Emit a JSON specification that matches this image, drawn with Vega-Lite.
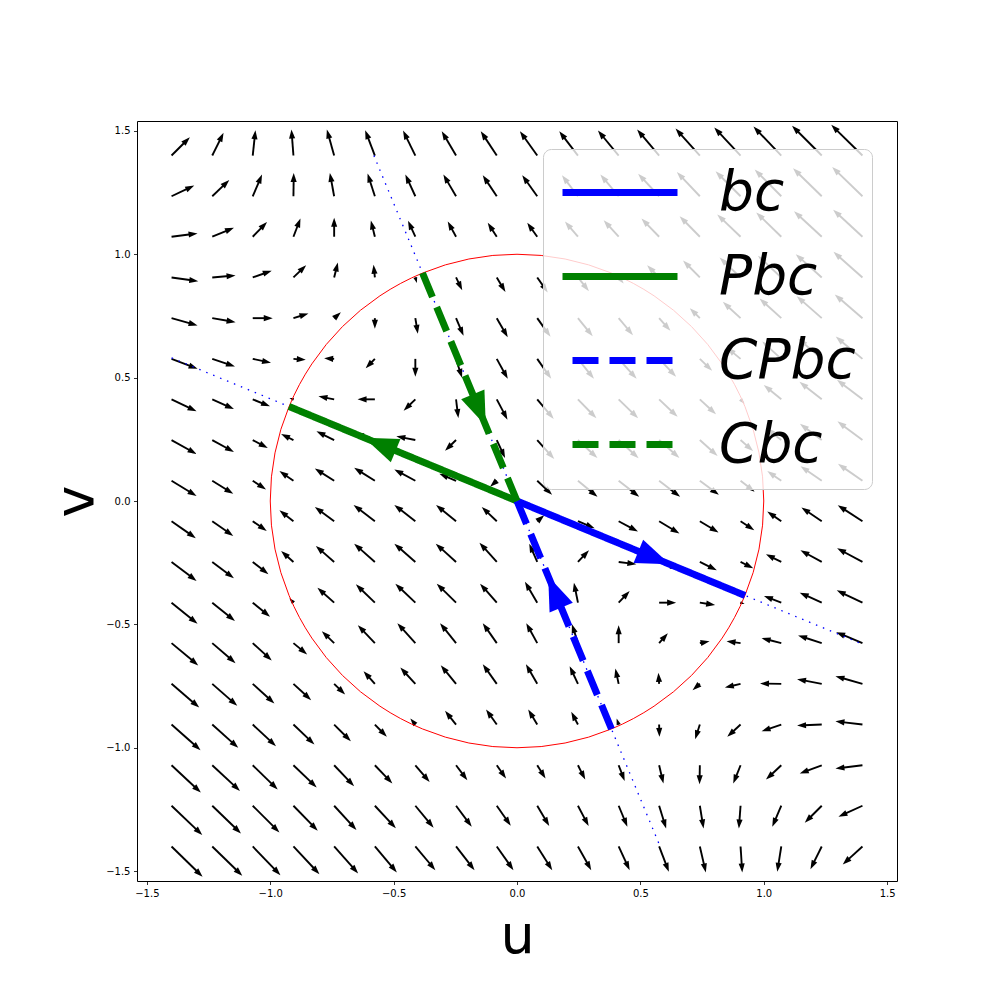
{
"$schema": "https://vega.github.io/schema/vega-lite/v6.json",
"width": 760, "height": 760,
"autosize": {"type": "none"},
"padding": {"left": 137, "top": 121, "right": 111, "bottom": 127},
"background": "white",
"config": {
"view": {"stroke": "#000", "strokeWidth": 1},
"axis": {"grid": false, "domain": false, "tickSize": 3.5, "tickWidth": 0.8, "tickColor": "#000", "labelFont": "DejaVu Sans", "labelFontSize": 10, "labelColor": "#000", "labelPadding": 3.5, "labelFlush": false, "labelOverlap": false, "titleFont": "DejaVu Sans", "titleFontSize": 54, "titleFontWeight": "normal", "titleColor": "#000", "titleBaseline": "alphabetic", "titleAlign": "center"},
"axisX": {"titleX": 380, "titleY": 71},
"axisY": {"titleAngle": -90, "titleX": -45, "titleY": 380}
},
"datasets": {
"field": [
{"u":-1.4,"v":1.4,"du":18.3,"dv":18.3},{"u":-1.235,"v":1.4,"du":11.3,"dv":22.7},{"u":-1.071,"v":1.4,"du":2.7,"dv":25.3},{"u":-0.906,"v":1.4,"du":-2,"dv":26},{"u":-0.741,"v":1.4,"du":-7.3,"dv":26},{"u":-0.576,"v":1.4,"du":-9.7,"dv":25.3},{"u":-0.412,"v":1.4,"du":-12.3,"dv":25},{"u":-0.247,"v":1.4,"du":-14.3,"dv":24.3},{"u":-0.082,"v":1.4,"du":-16,"dv":24.3},{"u":0.082,"v":1.4,"du":-17.3,"dv":24.3},{"u":0.247,"v":1.4,"du":-18.7,"dv":24.2},{"u":0.412,"v":1.4,"du":-20.7,"dv":25},{"u":0.576,"v":1.4,"du":-22,"dv":26},{"u":0.741,"v":1.4,"du":-24.3,"dv":27},{"u":0.906,"v":1.4,"du":-26.3,"dv":28},{"u":1.071,"v":1.4,"du":-27.8,"dv":29},{"u":1.235,"v":1.4,"du":-29.7,"dv":29.8},{"u":1.4,"v":1.4,"du":-31.2,"dv":30.7},
{"u":-1.4,"v":1.235,"du":22.7,"dv":10.7},{"u":-1.235,"v":1.235,"du":17,"dv":16.3},{"u":-1.071,"v":1.235,"du":9.3,"dv":21.7},{"u":-0.906,"v":1.235,"du":0.3,"dv":23.3},{"u":-0.741,"v":1.235,"du":-4.3,"dv":23.3},{"u":-0.576,"v":1.235,"du":-7.3,"dv":22.7},{"u":-0.412,"v":1.235,"du":-10,"dv":21.7},{"u":-0.247,"v":1.235,"du":-12.7,"dv":21.7},{"u":-0.082,"v":1.235,"du":-14,"dv":21},{"u":0.082,"v":1.235,"du":-15,"dv":21},{"u":0.247,"v":1.235,"du":-16,"dv":21},{"u":0.412,"v":1.235,"du":-18.3,"dv":21.7},{"u":0.576,"v":1.235,"du":-21,"dv":22.6},{"u":0.741,"v":1.235,"du":-23,"dv":24.3},{"u":0.906,"v":1.235,"du":-25,"dv":25},{"u":1.071,"v":1.235,"du":-26.6,"dv":26.7},{"u":1.235,"v":1.235,"du":-28.7,"dv":28},{"u":1.4,"v":1.235,"du":-30.3,"dv":29.3},
{"u":-1.4,"v":1.071,"du":26,"dv":3.3},{"u":-1.235,"v":1.071,"du":21.7,"dv":9},{"u":-1.071,"v":1.071,"du":14.3,"dv":14.7},{"u":-0.906,"v":1.071,"du":7,"dv":18.3},{"u":-0.741,"v":1.071,"du":0,"dv":19},{"u":-0.576,"v":1.071,"du":-4,"dv":16.3},{"u":-0.412,"v":1.071,"du":-7.3,"dv":16},{"u":-0.247,"v":1.071,"du":-8.3,"dv":15.3},{"u":-0.082,"v":1.071,"du":-9,"dv":14},{"u":0.082,"v":1.071,"du":-10,"dv":14},{"u":0.247,"v":1.071,"du":-13,"dv":15.3},{"u":0.412,"v":1.071,"du":-15,"dv":16.5},{"u":0.576,"v":1.071,"du":-17.7,"dv":18.2},{"u":0.741,"v":1.071,"du":-20.2,"dv":20.5},{"u":0.906,"v":1.071,"du":-23.3,"dv":22.3},{"u":1.071,"v":1.071,"du":-25,"dv":24.3},{"u":1.235,"v":1.071,"du":-27.7,"dv":25.5},{"u":1.4,"v":1.071,"du":-29.3,"dv":27},
{"u":-1.4,"v":0.906,"du":26.7,"dv":-3.7},{"u":-1.235,"v":0.906,"du":23.3,"dv":2},{"u":-1.071,"v":0.906,"du":19,"dv":6.7},{"u":-0.906,"v":0.906,"du":12.7,"dv":12.3},{"u":-0.741,"v":0.906,"du":3.7,"dv":15},{"u":-0.576,"v":0.906,"du":-1.3,"dv":12.7},{"u":-0.412,"v":0.906,"du":1.5,"dv":-5.5},{"u":-0.247,"v":0.906,"du":6.2,"dv":-12.7},{"u":-0.082,"v":0.906,"du":8.7,"dv":-14.5},{"u":0.082,"v":0.906,"du":10.5,"dv":-15},{"u":0.247,"v":0.906,"du":11,"dv":-13.7},{"u":0.412,"v":0.906,"du":5,"dv":-6},{"u":0.576,"v":0.906,"du":-12,"dv":12.3},{"u":0.741,"v":0.906,"du":-16.8,"dv":17},{"u":0.906,"v":0.906,"du":-21,"dv":20},{"u":1.071,"v":0.906,"du":-23.3,"dv":21.7},{"u":1.235,"v":0.906,"du":-26,"dv":23.3},{"u":1.4,"v":0.906,"du":-29,"dv":25.7},
{"u":-1.4,"v":0.741,"du":26,"dv":-7.3},{"u":-1.235,"v":0.741,"du":23.3,"dv":-4},{"u":-1.071,"v":0.741,"du":20,"dv":0},{"u":-0.906,"v":0.741,"du":15,"dv":4.7},{"u":-0.741,"v":0.741,"du":6.7,"dv":6},{"u":-0.576,"v":0.741,"du":0,"dv":-10.7},{"u":-0.412,"v":0.741,"du":2.5,"dv":-15.7},{"u":-0.247,"v":0.741,"du":7.5,"dv":-17.7},{"u":-0.082,"v":0.741,"du":11,"dv":-19.2},{"u":0.082,"v":0.741,"du":13.3,"dv":-18.7},{"u":0.247,"v":0.741,"du":14.8,"dv":-18.2},{"u":0.412,"v":0.741,"du":14.3,"dv":-17},{"u":0.576,"v":0.741,"du":11.3,"dv":-12.7},{"u":0.741,"v":0.741,"du":-10,"dv":10},{"u":0.906,"v":0.741,"du":-17.7,"dv":16.3},{"u":1.071,"v":0.741,"du":-21.7,"dv":19.7},{"u":1.235,"v":0.741,"du":-25,"dv":22},{"u":1.4,"v":0.741,"du":-27.7,"dv":23.7},
{"u":-1.4,"v":0.576,"du":26,"dv":-10},{"u":-1.235,"v":0.576,"du":22.7,"dv":-7.7},{"u":-1.071,"v":0.576,"du":18.3,"dv":-4},{"u":-0.906,"v":0.576,"du":12.3,"dv":-1},{"u":-0.741,"v":0.576,"du":-10,"dv":0.5},{"u":-0.576,"v":0.576,"du":-9.2,"dv":-9.5},{"u":-0.412,"v":0.576,"du":0,"dv":-18},{"u":-0.247,"v":0.576,"du":6,"dv":-19},{"u":-0.082,"v":0.576,"du":11,"dv":-20},{"u":0.082,"v":0.576,"du":14,"dv":-20},{"u":0.247,"v":0.576,"du":16,"dv":-20},{"u":0.412,"v":0.576,"du":18,"dv":-20},{"u":0.576,"v":0.576,"du":17,"dv":-18},{"u":0.741,"v":0.576,"du":12.3,"dv":-12},{"u":0.906,"v":0.576,"du":-13.7,"dv":11.3},{"u":1.071,"v":0.576,"du":-19,"dv":17.3},{"u":1.235,"v":0.576,"du":-23.3,"dv":20},{"u":1.4,"v":0.576,"du":-26.7,"dv":22.3},
{"u":-1.4,"v":0.412,"du":25,"dv":-12},{"u":-1.235,"v":0.412,"du":21.7,"dv":-9.7},{"u":-1.071,"v":0.412,"du":17.3,"dv":-7},{"u":-0.906,"v":0.412,"du":-4,"dv":1.3},{"u":-0.741,"v":0.412,"du":-15.7,"dv":3},{"u":-0.576,"v":0.412,"du":-17.3,"dv":0},{"u":-0.412,"v":0.412,"du":-11.7,"dv":-11.3},{"u":-0.247,"v":0.412,"du":2.3,"dv":-18.7},{"u":-0.082,"v":0.412,"du":10.7,"dv":-20.3},{"u":0.082,"v":0.412,"du":16.5,"dv":-19.7},{"u":0.247,"v":0.412,"du":18.5,"dv":-19},{"u":0.412,"v":0.412,"du":19.5,"dv":-19},{"u":0.576,"v":0.412,"du":18.5,"dv":-17.5},{"u":0.741,"v":0.412,"du":16.2,"dv":-15},{"u":0.906,"v":0.412,"du":4,"dv":-4.5},{"u":1.071,"v":0.412,"du":-17.5,"dv":14.3},{"u":1.235,"v":0.412,"du":-22.3,"dv":17.5},{"u":1.4,"v":0.412,"du":-25.5,"dv":19.5},
{"u":-1.4,"v":0.247,"du":25,"dv":-14},{"u":-1.235,"v":0.247,"du":21.7,"dv":-12},{"u":-1.071,"v":0.247,"du":15,"dv":-8},{"u":-0.906,"v":0.247,"du":-12.3,"dv":6},{"u":-0.741,"v":0.247,"du":-17.7,"dv":8.7},{"u":-0.576,"v":0.247,"du":-20,"dv":7},{"u":-0.412,"v":0.247,"du":-19,"dv":3.7},{"u":-0.247,"v":0.247,"du":-11,"dv":-10.7},{"u":-0.082,"v":0.247,"du":8.3,"dv":-18},{"u":0.082,"v":0.247,"du":17,"dv":-19},{"u":0.247,"v":0.247,"du":19.5,"dv":-18},{"u":0.412,"v":0.247,"du":20,"dv":-18.3},{"u":0.576,"v":0.247,"du":20.3,"dv":-18},{"u":0.741,"v":0.247,"du":17.8,"dv":-16},{"u":0.906,"v":0.247,"du":12.5,"dv":-11},{"u":1.071,"v":0.247,"du":-15.3,"dv":12},{"u":1.235,"v":0.247,"du":-21.8,"dv":16.2},{"u":1.4,"v":0.247,"du":-25,"dv":18.7},
{"u":-1.4,"v":0.082,"du":25,"dv":-15.3},{"u":-1.235,"v":0.082,"du":21,"dv":-13},{"u":-1.071,"v":0.082,"du":13.3,"dv":-8.7},{"u":-0.906,"v":0.082,"du":-14,"dv":9.7},{"u":-0.741,"v":0.082,"du":-19.3,"dv":12.3},{"u":-0.576,"v":0.082,"du":-20.7,"dv":13},{"u":-0.412,"v":0.082,"du":-21,"dv":11.3},{"u":-0.247,"v":0.082,"du":-16.7,"dv":7},{"u":-0.082,"v":0.082,"du":-6.7,"dv":-6},{"u":0.082,"v":0.082,"du":14.8,"dv":-14},{"u":0.247,"v":0.082,"du":19.5,"dv":-16},{"u":0.412,"v":0.082,"du":20.5,"dv":-16},{"u":0.576,"v":0.082,"du":21,"dv":-16},{"u":0.741,"v":0.082,"du":19,"dv":-14},{"u":0.906,"v":0.082,"du":14,"dv":-11},{"u":1.071,"v":0.082,"du":-14,"dv":9.7},{"u":1.235,"v":0.082,"du":-21.2,"dv":14.5},{"u":1.4,"v":0.082,"du":-24.5,"dv":17},
{"u":-1.4,"v":-0.082,"du":24.3,"dv":-17},{"u":-1.235,"v":-0.082,"du":21,"dv":-14.7},{"u":-1.071,"v":-0.082,"du":14,"dv":-9.7},{"u":-0.906,"v":-0.082,"du":-14,"dv":11},{"u":-0.741,"v":-0.082,"du":-19.3,"dv":14.3},{"u":-0.576,"v":-0.082,"du":-21.3,"dv":16.3},{"u":-0.412,"v":-0.082,"du":-21,"dv":16.3},{"u":-0.247,"v":-0.082,"du":-20,"dv":16.3},{"u":-0.082,"v":-0.082,"du":-15,"dv":14.3},{"u":0.082,"v":-0.082,"du":7,"dv":6},{"u":0.247,"v":-0.082,"du":16.7,"dv":-7},{"u":0.412,"v":-0.082,"du":19.3,"dv":-10.3},{"u":0.576,"v":-0.082,"du":20.3,"dv":-12.3},{"u":0.741,"v":-0.082,"du":18.7,"dv":-11.3},{"u":0.906,"v":-0.082,"du":13.7,"dv":-9},{"u":1.071,"v":-0.082,"du":-14,"dv":9.7},{"u":1.235,"v":-0.082,"du":-20.3,"dv":13.7},{"u":1.4,"v":-0.082,"du":-24.7,"dv":16},
{"u":-1.4,"v":-0.247,"du":25,"dv":-19},{"u":-1.235,"v":-0.247,"du":21.7,"dv":-16.3},{"u":-1.071,"v":-0.247,"du":15.7,"dv":-12.3},{"u":-0.906,"v":-0.247,"du":-12.3,"dv":11},{"u":-0.741,"v":-0.247,"du":-18.3,"dv":16},{"u":-0.576,"v":-0.247,"du":-20.7,"dv":18.3},{"u":-0.412,"v":-0.247,"du":-21,"dv":18.3},{"u":-0.247,"v":-0.247,"du":-20.3,"dv":18.3},{"u":-0.082,"v":-0.247,"du":-17.3,"dv":19.3},{"u":0.082,"v":-0.247,"du":-8,"dv":18.3},{"u":0.247,"v":-0.247,"du":11,"dv":11.7},{"u":0.412,"v":-0.247,"du":17.7,"dv":-2.3},{"u":0.576,"v":-0.247,"du":20,"dv":-7},{"u":0.741,"v":-0.247,"du":17,"dv":-8.3},{"u":0.906,"v":-0.247,"du":12.7,"dv":-6.3},{"u":1.071,"v":-0.247,"du":-15.3,"dv":7.7},{"u":1.235,"v":-0.247,"du":-21.3,"dv":11.7},{"u":1.4,"v":-0.247,"du":-25.3,"dv":13.7},
{"u":-1.4,"v":-0.412,"du":26,"dv":-21},{"u":-1.235,"v":-0.412,"du":22.7,"dv":-18.3},{"u":-1.071,"v":-0.412,"du":17.3,"dv":-14},{"u":-0.906,"v":-0.412,"du":-4,"dv":4.5},{"u":-0.741,"v":-0.412,"du":-16.7,"dv":15},{"u":-0.576,"v":-0.412,"du":-19,"dv":18.3},{"u":-0.412,"v":-0.412,"du":-20,"dv":19},{"u":-0.247,"v":-0.412,"du":-19.3,"dv":19},{"u":-0.082,"v":-0.412,"du":-16.7,"dv":19},{"u":0.082,"v":-0.412,"du":-12.3,"dv":21},{"u":0.247,"v":-0.412,"du":-4,"dv":20},{"u":0.412,"v":-0.412,"du":11,"dv":11.7},{"u":0.576,"v":-0.412,"du":17,"dv":0},{"u":0.741,"v":-0.412,"du":15.3,"dv":-2.3},{"u":0.906,"v":-0.412,"du":4,"dv":-1.3},{"u":1.071,"v":-0.412,"du":-17.3,"dv":6.7},{"u":1.235,"v":-0.412,"du":-22,"dv":10},{"u":1.4,"v":-0.412,"du":-25.7,"dv":12.3},
{"u":-1.4,"v":-0.576,"du":26.7,"dv":-22.3},{"u":-1.235,"v":-0.576,"du":23.3,"dv":-20},{"u":-1.071,"v":-0.576,"du":19,"dv":-17.3},{"u":-0.906,"v":-0.576,"du":13.7,"dv":-11.3},{"u":-0.741,"v":-0.576,"du":-12.3,"dv":12},{"u":-0.576,"v":-0.576,"du":-17,"dv":18},{"u":-0.412,"v":-0.576,"du":-18,"dv":20},{"u":-0.247,"v":-0.576,"du":-16,"dv":20},{"u":-0.082,"v":-0.576,"du":-14,"dv":20},{"u":0.082,"v":-0.576,"du":-11,"dv":20},{"u":0.247,"v":-0.576,"du":-6,"dv":19},{"u":0.412,"v":-0.576,"du":0,"dv":18},{"u":0.576,"v":-0.576,"du":8.7,"dv":10},{"u":0.741,"v":-0.576,"du":9.7,"dv":2},{"u":0.906,"v":-0.576,"du":-14,"dv":2},{"u":1.071,"v":-0.576,"du":-19.7,"dv":5},{"u":1.235,"v":-0.576,"du":-23.7,"dv":7.7},{"u":1.4,"v":-0.576,"du":-26.3,"dv":11},
{"u":-1.4,"v":-0.741,"du":27.7,"dv":-23.7},{"u":-1.235,"v":-0.741,"du":25,"dv":-22},{"u":-1.071,"v":-0.741,"du":21.7,"dv":-19.7},{"u":-0.906,"v":-0.741,"du":17.7,"dv":-16.3},{"u":-0.741,"v":-0.741,"du":11,"dv":-10.7},{"u":-0.576,"v":-0.741,"du":-11.3,"dv":12.7},{"u":-0.412,"v":-0.741,"du":-15,"dv":16.3},{"u":-0.247,"v":-0.741,"du":-15.3,"dv":18.7},{"u":-0.082,"v":-0.741,"du":-14,"dv":19.7},{"u":0.082,"v":-0.741,"du":-11.3,"dv":19.7},{"u":0.247,"v":-0.741,"du":-8.3,"dv":17.7},{"u":0.412,"v":-0.741,"du":-3.3,"dv":15.3},{"u":0.576,"v":-0.741,"du":-0.7,"dv":11},{"u":0.741,"v":-0.741,"du":-7.3,"dv":-6.3},{"u":0.906,"v":-0.741,"du":-15.7,"dv":-3.7},{"u":1.071,"v":-0.741,"du":-21.3,"dv":0.3},{"u":1.235,"v":-0.741,"du":-24.7,"dv":4.7},{"u":1.4,"v":-0.741,"du":-27,"dv":7.7},
{"u":-1.4,"v":-0.906,"du":29,"dv":-25.7},{"u":-1.235,"v":-0.906,"du":26,"dv":-23.3},{"u":-1.071,"v":-0.906,"du":23.3,"dv":-21.7},{"u":-0.906,"v":-0.906,"du":21,"dv":-20},{"u":-0.741,"v":-0.906,"du":16.7,"dv":-16.7},{"u":-0.576,"v":-0.906,"du":12,"dv":-12.3},{"u":-0.412,"v":-0.906,"du":-5,"dv":6},{"u":-0.247,"v":-0.906,"du":-11,"dv":13.7},{"u":-0.082,"v":-0.906,"du":-10.7,"dv":15},{"u":0.082,"v":-0.906,"du":-9,"dv":15},{"u":0.247,"v":-0.906,"du":-6.7,"dv":12.7},{"u":0.412,"v":-0.906,"du":-2,"dv":6},{"u":0.576,"v":-0.906,"du":0.3,"dv":-12.3},{"u":0.741,"v":-0.906,"du":-4.7,"dv":-14.7},{"u":0.906,"v":-0.906,"du":-13.3,"dv":-12.3},{"u":1.071,"v":-0.906,"du":-19.7,"dv":-6.7},{"u":1.235,"v":-0.906,"du":-24.7,"dv":-1},{"u":1.4,"v":-0.906,"du":-27,"dv":3.3},
{"u":-1.4,"v":-1.071,"du":29.3,"dv":-27.3},{"u":-1.235,"v":-1.071,"du":27.7,"dv":-25.7},{"u":-1.071,"v":-1.071,"du":25,"dv":-24.3},{"u":-0.906,"v":-1.071,"du":23.3,"dv":-22.3},{"u":-0.741,"v":-1.071,"du":20,"dv":-21},{"u":-0.576,"v":-1.071,"du":17.5,"dv":-18.2},{"u":-0.412,"v":-1.071,"du":14.3,"dv":-16.7},{"u":-0.247,"v":-1.071,"du":11.3,"dv":-15},{"u":-0.082,"v":-1.071,"du":9.3,"dv":-13.3},{"u":0.082,"v":-1.071,"du":8.3,"dv":-13.3},{"u":0.247,"v":-1.071,"du":7.3,"dv":-14.3},{"u":0.412,"v":-1.071,"du":6,"dv":-15.7},{"u":0.576,"v":-1.071,"du":4.3,"dv":-18.3},{"u":0.741,"v":-1.071,"du":-0.3,"dv":-19},{"u":0.906,"v":-1.071,"du":-7.3,"dv":-18.3},{"u":1.071,"v":-1.071,"du":-15.3,"dv":-14.3},{"u":1.235,"v":-1.071,"du":-22,"dv":-8.3},{"u":1.4,"v":-1.071,"du":-27,"dv":-3.3},
{"u":-1.4,"v":-1.235,"du":30.7,"dv":-29.3},{"u":-1.235,"v":-1.235,"du":28.7,"dv":-27.7},{"u":-1.071,"v":-1.235,"du":26.7,"dv":-26.7},{"u":-0.906,"v":-1.235,"du":24.3,"dv":-25},{"u":-0.741,"v":-1.235,"du":22.3,"dv":-24.3},{"u":-0.576,"v":-1.235,"du":21,"dv":-22.5},{"u":-0.412,"v":-1.235,"du":18.3,"dv":-22},{"u":-0.247,"v":-1.235,"du":15.7,"dv":-21},{"u":-0.082,"v":-1.235,"du":14,"dv":-20},{"u":0.082,"v":-1.235,"du":12,"dv":-20.3},{"u":0.247,"v":-1.235,"du":10.7,"dv":-20.3},{"u":0.412,"v":-1.235,"du":8.7,"dv":-21},{"u":0.576,"v":-1.235,"du":7,"dv":-22.7},{"u":0.741,"v":-1.235,"du":3.7,"dv":-22.7},{"u":0.906,"v":-1.235,"du":-1.7,"dv":-22.7},{"u":1.071,"v":-1.235,"du":-9,"dv":-21},{"u":1.235,"v":-1.235,"du":-17,"dv":-17},{"u":1.4,"v":-1.235,"du":-24,"dv":-11},
{"u":-1.4,"v":-1.4,"du":31,"dv":-30.3},{"u":-1.235,"v":-1.4,"du":30,"dv":-29.3},{"u":-1.071,"v":-1.4,"du":27.7,"dv":-28.7},{"u":-0.906,"v":-1.4,"du":26,"dv":-27.7},{"u":-0.741,"v":-1.4,"du":24,"dv":-27},{"u":-0.576,"v":-1.4,"du":22,"dv":-26},{"u":-0.412,"v":-1.4,"du":20,"dv":-23.7},{"u":-0.247,"v":-1.4,"du":18.5,"dv":-23.7},{"u":-0.082,"v":-1.4,"du":16.7,"dv":-23.7},{"u":0.082,"v":-1.4,"du":15,"dv":-23.7},{"u":0.247,"v":-1.4,"du":13.3,"dv":-23.7},{"u":0.412,"v":-1.4,"du":11,"dv":-23.7},{"u":0.576,"v":-1.4,"du":9.7,"dv":-25.3},{"u":0.741,"v":-1.4,"du":6,"dv":-26},{"u":0.906,"v":-1.4,"du":1.7,"dv":-26},{"u":1.071,"v":-1.4,"du":-4,"dv":-25.3},{"u":1.235,"v":-1.4,"du":-11.3,"dv":-22.7},{"u":1.4,"v":-1.4,"du":-19.7,"dv":-18}
],
"vecs": [
{"name":"bc","u0":0,"v0":0,"u1":0.924,"v1":-0.383},
{"name":"Pbc","u0":0,"v0":0,"u1":-0.924,"v1":0.383},
{"name":"CPbc","u0":0.383,"v0":-0.924,"u1":0,"v1":0},
{"name":"Cbc","u0":-0.383,"v0":0.924,"u1":0,"v1":0}
],
"guides": [
{"u0":-1.4,"v0":0.58,"u1":1.4,"v1":-0.58},
{"u0":-0.58,"v0":1.4,"u1":0.58,"v1":-1.4}
],
"origin": [{"u":0,"v":0}]
},
"layer": [
{
"data": {"name": "field"},
"transform": [
{"calculate": "sqrt(datum.du*datum.du + datum.dv*datum.dv)", "as": "len"},
{"calculate": "min(9, datum.len)", "as": "hl"},
{"calculate": "max(0, datum.len - 0.75*datum.hl) / 246.75", "as": "sl"},
{"calculate": "datum.u + datum.du / datum.len * datum.sl", "as": "sx"},
{"calculate": "datum.v + datum.dv / datum.len * datum.sl", "as": "sy"}
],
"mark": {"type": "rule", "color": "black", "strokeWidth": 1.9},
"encoding": {
"x": {"field": "u", "type": "quantitative", "title": "u", "scale": {"domain": [-1.54, 1.54], "nice": false, "zero": false},
"axis": {"values": [-1.5, -1, -0.5, 0, 0.5, 1, 1.5], "format": ".1f"}},
"y": {"field": "v", "type": "quantitative", "title": "v", "scale": {"domain": [-1.54, 1.54], "nice": false, "zero": false},
"axis": {"values": [-1.5, -1, -0.5, 0, 0.5, 1, 1.5], "format": ".1f"}},
"x2": {"field": "sx"},
"y2": {"field": "sy"}
}
},
{
"data": {"name": "field"},
"transform": [
{"calculate": "sqrt(datum.du*datum.du + datum.dv*datum.dv)", "as": "len"},
{"calculate": "min(9, datum.len)", "as": "hl"},
{"calculate": "datum.u + datum.du / 246.75", "as": "tx"},
{"calculate": "datum.v + datum.dv / 246.75", "as": "ty"},
{"calculate": "atan2(datum.du, datum.dv) * 180 / PI", "as": "ang"},
{"calculate": "4 * datum.hl * datum.hl", "as": "hs"}
],
"mark": {"type": "point", "shape": "M0,0L-0.34,1L0.34,1Z", "filled": true, "color": "black", "opacity": 1, "strokeWidth": 0},
"encoding": {
"x": {"field": "tx", "type": "quantitative", "title": "u"},
"y": {"field": "ty", "type": "quantitative", "title": "v"},
"angle": {"field": "ang", "type": "quantitative", "scale": null},
"size": {"field": "hs", "type": "quantitative", "scale": null}
}
},
{
"data": {"name": "guides"},
"mark": {"type": "rule", "color": "blue", "strokeWidth": 1.3, "strokeDash": [1.5, 6]},
"encoding": {
"x": {"field": "u0", "type": "quantitative", "title": "u"},
"y": {"field": "v0", "type": "quantitative", "title": "v"},
"x2": {"field": "u1"},
"y2": {"field": "v1"}
}
},
{
"data": {"name": "origin"},
"mark": {"type": "point", "shape": "circle", "size": 243542, "filled": false, "stroke": "red", "strokeWidth": 1, "opacity": 1},
"encoding": {
"x": {"field": "u", "type": "quantitative", "title": "u"},
"y": {"field": "v", "type": "quantitative", "title": "v"}
}
},
{
"data": {"name": "vecs"},
"mark": {"type": "rule", "strokeWidth": 7, "strokeCap": "butt"},
"encoding": {
"x": {"field": "u0", "type": "quantitative", "title": "u"},
"y": {"field": "v0", "type": "quantitative", "title": "v"},
"x2": {"field": "u1"},
"y2": {"field": "v1"},
"color": {"field": "name", "type": "nominal", "scale": {"domain": ["bc", "Pbc", "CPbc", "Cbc"], "range": ["#0000ff", "#008000", "#0000ff", "#008000"]},
"legend": {"title": null, "orient": "none", "legendX": 406, "legendY": 28, "symbolType": "stroke", "symbolSize": 13225, "symbolStrokeWidth": 7, "symbolDashOffset": -10, "labelFont": "DejaVu Sans", "labelFontStyle": "italic", "labelFontSize": 55, "labelColor": "#000", "labelOffset": 38, "labelLimit": 400, "rowPadding": 28, "clipHeight": 55, "padding": 16, "fillColor": "rgba(255,255,255,0.8)", "strokeColor": "#cccccc", "cornerRadius": 8}},
"strokeDash": {"field": "name", "type": "nominal", "scale": {"domain": ["bc", "Pbc", "CPbc", "Cbc"], "range": [[1, 0], [1, 0], [26, 11], [26, 11]]},
"legend": {"title": null, "orient": "none", "legendX": 406, "legendY": 28, "symbolType": "stroke", "symbolSize": 13225, "symbolStrokeWidth": 7, "symbolDashOffset": -10, "labelFont": "DejaVu Sans", "labelFontStyle": "italic", "labelFontSize": 55, "labelColor": "#000", "labelOffset": 38, "labelLimit": 400, "rowPadding": 28, "clipHeight": 55, "padding": 16, "fillColor": "rgba(255,255,255,0.8)", "strokeColor": "#cccccc", "cornerRadius": 8}}
}
},
{
"data": {"name": "vecs"},
"transform": [
{"calculate": "datum.u0 + 0.67 * (datum.u1 - datum.u0)", "as": "hx"},
{"calculate": "datum.v0 + 0.67 * (datum.v1 - datum.v0)", "as": "hy"},
{"calculate": "atan2(datum.u1 - datum.u0, datum.v1 - datum.v0) * 180 / PI", "as": "ha"}
],
"mark": {"type": "point", "shape": "M0,0L-0.37,1L0.37,1Z", "filled": true, "size": 4624, "opacity": 1, "strokeWidth": 0},
"encoding": {
"x": {"field": "hx", "type": "quantitative", "title": "u"},
"y": {"field": "hy", "type": "quantitative", "title": "v"},
"angle": {"field": "ha", "type": "quantitative", "scale": null},
"color": {"field": "name", "type": "nominal", "legend": null}
}
}
]
}
